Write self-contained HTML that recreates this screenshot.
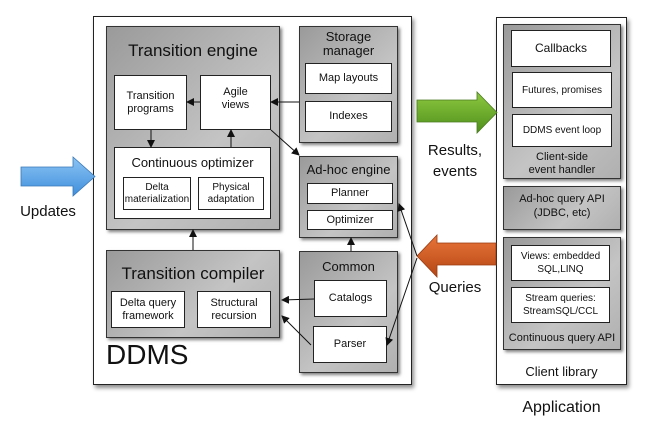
<!DOCTYPE html>
<html><head><style>
body{margin:0;width:647px;height:427px;background:#fff;position:relative;overflow:hidden;font-family:"Liberation Sans",sans-serif;color:#111}
div{position:absolute;box-sizing:border-box}
.o{background:#fff;border:1px solid #222;box-shadow:2px 3px 4px rgba(0,0,0,.45)}
.g{background:linear-gradient(135deg,#9a9a9a,#c4c4c4 60%,#b0b0b0);border:1px solid #333;box-shadow:2px 2px 3px rgba(0,0,0,.5)}
.w{background:#fff;border:1px solid #222;display:flex;align-items:center;justify-content:center;text-align:center;font-size:11px;line-height:13px}
.t{text-align:center;white-space:nowrap}
</style></head><body>
<div class="o" style="left:93px;top:16px;width:319px;height:369px"></div>
<div class="o" style="left:496px;top:17px;width:131px;height:368px"></div>

<div class="g" style="left:106px;top:26px;width:174px;height:204px"></div>
<div class="t" style="left:106px;top:41px;width:174px;font-size:17px">Transition engine</div>
<div class="w" style="left:114px;top:75px;width:73px;height:55px">Transition<br>programs</div>
<div class="w" style="left:200px;top:75px;width:71px;height:55px;align-items:flex-start;padding-top:10px">Agile<br>views</div>
<div class="w" style="left:114px;top:147px;width:157px;height:72px;align-items:flex-start;padding-top:8px;font-size:13px">Continuous optimizer</div>
<div class="w" style="left:123px;top:177px;width:68px;height:33px;font-size:10px;line-height:12px">Delta<br>materialization</div>
<div class="w" style="left:198px;top:177px;width:66px;height:33px;font-size:10px;line-height:12px">Physical<br>adaptation</div>

<div class="g" style="left:299px;top:26px;width:99px;height:117px"></div>
<div class="t" style="left:299px;top:30px;width:99px;font-size:13px;line-height:14px">Storage<br>manager</div>
<div class="w" style="left:305px;top:63px;width:87px;height:31px">Map layouts</div>
<div class="w" style="left:305px;top:101px;width:87px;height:31px">Indexes</div>

<div class="g" style="left:299px;top:156px;width:99px;height:82px"></div>
<div class="t" style="left:299px;top:162px;width:99px;font-size:13px">Ad-hoc engine</div>
<div class="w" style="left:307px;top:183px;width:86px;height:21px">Planner</div>
<div class="w" style="left:307px;top:210px;width:86px;height:20px">Optimizer</div>

<div class="g" style="left:106px;top:250px;width:174px;height:88px"></div>
<div class="t" style="left:106px;top:264px;width:174px;font-size:17px">Transition compiler</div>
<div class="w" style="left:111px;top:291px;width:74px;height:37px">Delta query<br>framework</div>
<div class="w" style="left:197px;top:291px;width:74px;height:37px">Structural<br>recursion</div>

<div class="g" style="left:299px;top:251px;width:99px;height:122px"></div>
<div class="t" style="left:299px;top:259px;width:99px;font-size:13px">Common</div>
<div class="w" style="left:314px;top:280px;width:73px;height:37px">Catalogs</div>
<div class="w" style="left:313px;top:326px;width:74px;height:37px">Parser</div>

<div style="left:106px;top:339px;font-size:28px">DDMS</div>

<div class="g" style="left:503px;top:24px;width:118px;height:155px"></div>
<div class="w" style="left:511px;top:30px;width:100px;height:37px;font-size:12px">Callbacks</div>
<div class="w" style="left:512px;top:72px;width:100px;height:36px;font-size:10px">Futures, promises</div>
<div class="w" style="left:512px;top:114px;width:100px;height:33px;font-size:10px">DDMS event loop</div>
<div class="t" style="left:503px;top:151px;width:118px;font-size:11px;line-height:13px">Client-side<br>event handler</div>
<div class="g" style="left:503px;top:186px;width:118px;height:44px"></div>
<div class="t" style="left:503px;top:192px;width:118px;font-size:11px;line-height:14px">Ad-hoc query API<br>(JDBC, etc)</div>
<div class="g" style="left:503px;top:237px;width:118px;height:113px"></div>
<div class="w" style="left:511px;top:245px;width:99px;height:36px;font-size:10px;line-height:13px">Views: embedded<br>SQL,LINQ</div>
<div class="w" style="left:511px;top:287px;width:99px;height:36px;font-size:10px;line-height:13px">Stream queries:<br>StreamSQL/CCL</div>
<div class="t" style="left:503px;top:332px;width:118px;font-size:11px">Continuous query API</div>
<div class="t" style="left:496px;top:364px;width:131px;font-size:13px">Client library</div>
<div class="t" style="left:496px;top:399px;width:131px;font-size:16px">Application</div>

<div class="t" style="left:413px;top:140px;width:84px;font-size:15px;line-height:21px">Results,<br>events</div>
<div class="t" style="left:413px;top:279px;width:84px;font-size:15px">Queries</div>
<div class="t" style="left:8px;top:203px;width:80px;font-size:15px">Updates</div>

<svg width="647" height="427" style="position:absolute;left:0;top:0">
<defs>
<linearGradient id="gb" x1="0" y1="0" x2="0" y2="1"><stop offset="0" stop-color="#8cc4f4"/><stop offset="1" stop-color="#3f8fdc"/></linearGradient>
<linearGradient id="gg" x1="0" y1="0" x2="0" y2="1"><stop offset="0" stop-color="#8ec93f"/><stop offset="1" stop-color="#4e8f1c"/></linearGradient>
<linearGradient id="go" x1="0" y1="0" x2="0" y2="1"><stop offset="0" stop-color="#e8753a"/><stop offset="1" stop-color="#b54614"/></linearGradient>
<marker id="a" markerWidth="8" markerHeight="8" refX="7" refY="4" orient="auto" markerUnits="userSpaceOnUse"><path d="M0,0L8,4L0,8z" fill="#111"/></marker>
</defs>
<path d="M21,167H73V157L95,176.5L73,196V186H21z" fill="url(#gb)" stroke="#3a78b8" stroke-width="0.8"/>
<path d="M417,100H477V92L497,112.5L477,133V122H417z" fill="url(#gg)" stroke="#4a7a20" stroke-width="0.8"/>
<path d="M496,243H437V235L417,256L437,277V265H496z" fill="url(#go)" stroke="#9a3a10" stroke-width="0.8"/>
<g stroke="#111" stroke-width="1" fill="none" marker-end="url(#a)">
<line x1="200" y1="102" x2="187" y2="102"/>
<line x1="299" y1="102" x2="271" y2="102"/>
<line x1="151" y1="130" x2="151" y2="147"/>
<line x1="231" y1="147" x2="231" y2="130"/>
<line x1="271" y1="130" x2="299" y2="155"/>
<line x1="193" y1="250" x2="193" y2="230"/>
<line x1="351" y1="251" x2="351" y2="238"/>
<line x1="314" y1="299" x2="282" y2="300"/>
<line x1="311" y1="345" x2="282" y2="316"/>
<line x1="417" y1="258" x2="387" y2="345"/>
<line x1="417" y1="256" x2="399" y2="204"/>
</g>
</svg>
</body></html>
